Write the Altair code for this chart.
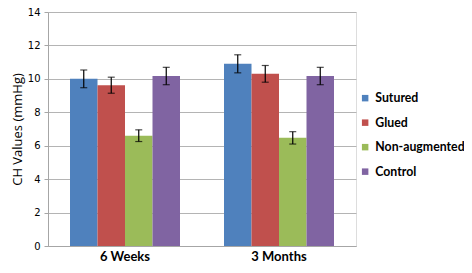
import altair as alt
import pandas as pd

periods = ["6 Weeks", "3 Months"]
groups = ["Sutured", "Glued", "Non-augmented", "Control"]
colors = ["#4F81BD", "#C0504D", "#9BBB59", "#8064A2"]
means_6w = [10.0, 9.62, 6.6, 10.17]
means_3m = [10.9, 10.3, 6.47, 10.17]
err_6w = [0.53, 0.48, 0.35, 0.52]
err_3m = [0.54, 0.5, 0.37, 0.52]
y_ticks = [0, 2, 4, 6, 8, 10, 12, 14]

rows = []
for p, ms, es in [(periods[0], means_6w, err_6w), (periods[1], means_3m, err_3m)]:
    for g, m, e in zip(groups, ms, es):
        rows.append({"period": p, "group": g, "value": m, "lo": m - e, "hi": m + e})
df = pd.DataFrame(rows)

x_axis = alt.Axis(labelAngle=0, labelFont="Lato", labelFontWeight="bold",
                  labelFontSize=13, labelColor="#000000", labelPadding=4,
                  ticks=False, domainColor="#a6a6a6", domainWidth=1)
x_enc = alt.X("period:N", sort=periods, title=None,
              scale=alt.Scale(paddingInner=0, paddingOuter=0), axis=x_axis)
xoff = alt.XOffset("group:N", sort=groups,
                   scale=alt.Scale(paddingInner=0, paddingOuter=0.8))

color = alt.Color("group:N", sort=groups,
                  scale=alt.Scale(domain=groups, range=colors),
                  legend=alt.Legend(title=None, orient="none", legendX=311, legendY=80,
                                    symbolType="square", symbolSize=42,
                                    symbolStrokeWidth=0,
                                    labelFont="Lato", labelFontWeight="bold",
                                    labelFontSize=12.3, labelColor="#000000",
                                    rowPadding=11.5, labelOffset=4))

y_axis = alt.Axis(values=y_ticks, format="d", labelOverlap=False, tickCount=8,
                  labelFont="DejaVu Sans", labelFontSize=10, labelColor="#000000",
                  labelPadding=4, tickSize=4, tickColor="#a6a6a6",
                  domainColor="#a6a6a6", gridColor="#b4b4b4",
                  titleFont="Open Sans", titleFontSize=13,
                  titleFontWeight="normal", titleColor="#000000",
                  titlePadding=3)
y_scale = alt.Scale(domain=[0, 14], nice=False)

base = alt.Chart(df)

bars = base.mark_bar(stroke=None).encode(
    x=x_enc, xOffset=xoff,
    y=alt.Y("value:Q", title="CH Values (mmHg)", scale=y_scale, axis=y_axis),
    color=color)

x_plain = alt.X("period:N", sort=periods, title=None, axis=x_axis)
off_plain = alt.XOffset("group:N", sort=groups)
rules = base.mark_rule(color="#000000", strokeWidth=1.2).encode(
    x=x_plain, xOffset=off_plain,
    y=alt.Y("lo:Q", title="CH Values (mmHg)", scale=y_scale, axis=y_axis), y2="hi:Q")
cap_lo = base.mark_tick(color="#000000", thickness=1.2, size=7, orient="horizontal").encode(
    x=x_plain, xOffset=off_plain,
    y=alt.Y("lo:Q", title="CH Values (mmHg)", scale=y_scale, axis=y_axis))
cap_hi = base.mark_tick(color="#000000", thickness=1.2, size=7, orient="horizontal").encode(
    x=x_plain, xOffset=off_plain,
    y=alt.Y("hi:Q", title="CH Values (mmHg)", scale=y_scale, axis=y_axis))

chart = alt.layer(bars, rules, cap_lo, cap_hi).properties(
    width=308, height=234,
    autosize=alt.AutoSizeParams(type="none"),
    padding={"left": 40, "top": 4, "right": 108, "bottom": 19},
).configure_view(stroke=None).configure(background="#ffffff")

chart.save("out.html", embed_options={"renderer": "svg", "actions": False})
